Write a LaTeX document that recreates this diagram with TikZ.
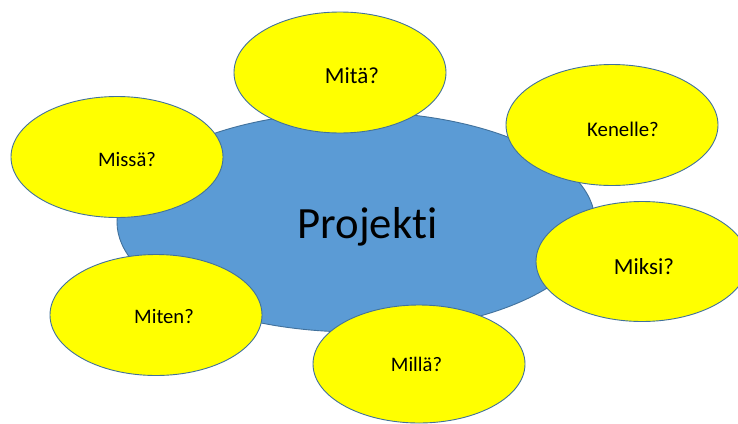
\documentclass[tikz,border=0pt]{standalone}
\usepackage{fontspec}
\setmainfont{Carlito}[Ligatures={NoCommon}]
\usetikzlibrary{shapes.geometric}
\definecolor{hubblue}{HTML}{5B9BD5}
\definecolor{edgeblue}{HTML}{41719C}
\definecolor{qyellow}{HTML}{FFFF00}
\tikzset{
  hub/.style={ellipse, draw=edgeblue, fill=hubblue, line width=0.9pt, inner sep=0pt},
  qbub/.style={ellipse, draw=edgeblue, fill=qyellow, line width=0.9pt, inner sep=0pt, minimum width=212pt, minimum height=121pt},
  qtxt/.style={anchor=base, inner sep=0pt, text=black},
}
\begin{document}
\begin{tikzpicture}[x=1pt,y=-1pt]
\useasboundingbox (0,0) rectangle (738,423);
\clip (0,0) rectangle (738,423);
\node[hub, minimum width=478pt, minimum height=220pt] (hub) at (356,222) {};
\node[qbub] (mita) at (340,72.5) {};
\node[qbub] (kenelle) at (612,125) {};
\node[qbub] (missa) at (117,157) {};
\node[qbub, minimum height=120pt] (miksi) at (642,261.5) {};
\node[qbub] (miten) at (156,315) {};
\node[qbub, minimum height=118pt] (milla) at (419,364) {};
\node[qtxt, font=\fontsize{44.7}{50}\selectfont] (tproj) at (367.5,238) {Projekti};
\node[qtxt, font=\fontsize{23}{26}\selectfont] (tmita) at (352,83.3) {Mitä?};
\node[qtxt, font=\fontsize{20.8}{24}\selectfont] (tken) at (623,136.7) {Kenelle?};
\node[qtxt, font=\fontsize{20.6}{24}\selectfont] (tmissa) at (127,166.7) {Missä?};
\node[qtxt, font=\fontsize{23}{26}\selectfont] (tmiksi) at (644,274) {Miksi?};
\node[qtxt, font=\fontsize{20.6}{24}\selectfont] (tmiten) at (164,323.3) {Miten?};
\node[qtxt, font=\fontsize{20.6}{24}\selectfont] (tmilla) at (416.5,371) {Millä?};
\end{tikzpicture}
\end{document}
